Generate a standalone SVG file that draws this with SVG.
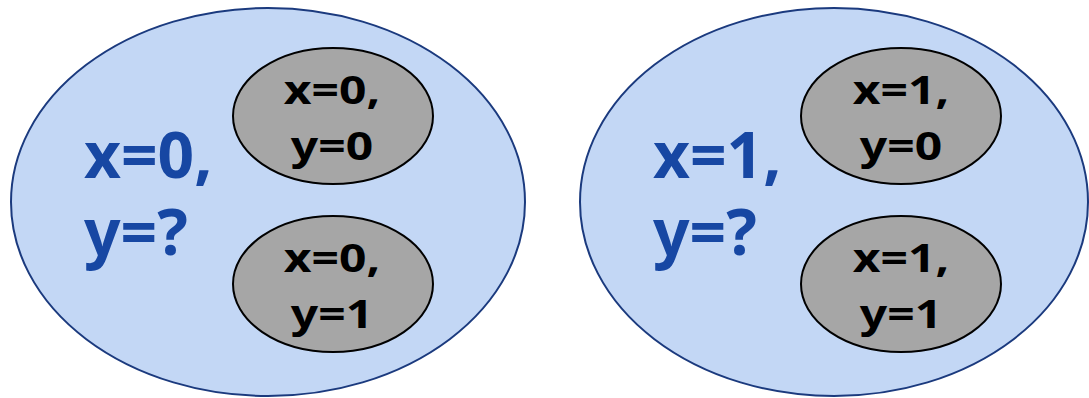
<svg xmlns="http://www.w3.org/2000/svg" width="1089" height="398" viewBox="0 0 1089 398">
<style>
.outer{fill:#c3d7f5;stroke:#1b3a7e;stroke-width:2}
.inner{fill:#a6a6a6;stroke:#000;stroke-width:2}
.big{font-family:"Noto Sans","Open Sans",sans-serif;font-weight:bold;font-size:64px;fill:#1747a3}
.small{font-family:"Noto Sans","Open Sans",sans-serif;font-weight:bold;font-size:40px;fill:#000;text-anchor:middle}
</style>
<rect width="1089" height="398" fill="#fff"/>
<g id="set-x0">
<ellipse class="outer" cx="268" cy="202" rx="257" ry="194"/>
<text class="big"><tspan x="84" y="178">x=0,</tspan><tspan x="84" y="255">y=?</tspan></text>
</g>
<g id="x0y0">
<ellipse class="inner" cx="333" cy="116" rx="100" ry="68"/>
<text class="small" transform="matrix(1.2 0 0 1 332 0)"><tspan x="0" y="104">x=0,</tspan><tspan x="0" y="160">y=0</tspan></text>
</g>
<g id="x0y1">
<ellipse class="inner" cx="333" cy="284" rx="100" ry="68"/>
<text class="small" transform="matrix(1.2 0 0 1 332 0)"><tspan x="0" y="272">x=0,</tspan><tspan x="0" y="328">y=1</tspan></text>
</g>
<g id="set-x1">
<ellipse class="outer" cx="834" cy="202" rx="254" ry="194"/>
<text class="big"><tspan x="653" y="178">x=1,</tspan><tspan x="653" y="255">y=?</tspan></text>
</g>
<g id="x1y0">
<ellipse class="inner" cx="901" cy="116" rx="100" ry="68"/>
<text class="small" transform="matrix(1.2 0 0 1 901 0)"><tspan x="0" y="104">x=1,</tspan><tspan x="0" y="160">y=0</tspan></text>
</g>
<g id="x1y1">
<ellipse class="inner" cx="901" cy="284" rx="100" ry="68"/>
<text class="small" transform="matrix(1.2 0 0 1 901 0)"><tspan x="0" y="272">x=1,</tspan><tspan x="0" y="328">y=1</tspan></text>
</g>
<g id="connectors"></g>
</svg>
